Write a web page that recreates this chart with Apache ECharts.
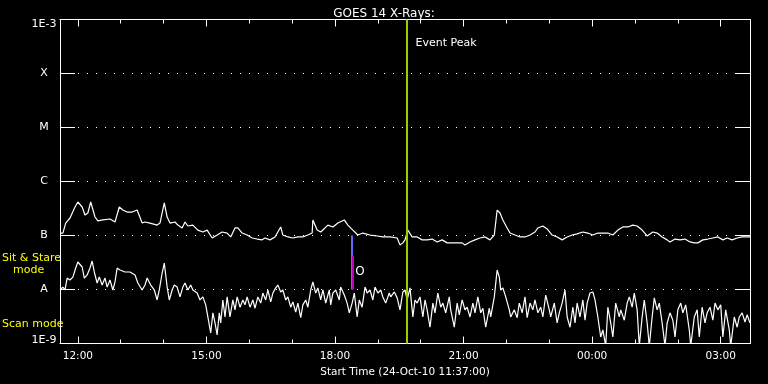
<!DOCTYPE html>
<html><head><meta charset="utf-8">
<script src="https://cdn.jsdelivr.net/npm/echarts@6/dist/echarts.min.js"></script>
<style>html,body{margin:0;padding:0;background:#000}#c{width:768px;height:384px}</style>
</head><body><div id="c"></div>
<script>
// ---- text ----
const chartTitle = 'GOES 14 X-Rays:';
const xTitle = 'Start Time (24-Oct-10 11:37:00)';
const modeLabels = ['Sit & Stare', 'mode', 'Scan mode'];
const eventLabel = 'Event Peak';
const obsLabel = 'O';
// ---- axis (time in minutes since 2010-10-24 00:00 UT) ----
const axisStart = 695;   // 11:35
const axisEnd = 1661;    // 03:41 next day
const majorTicks = [720, 900, 1080, 1260, 1440, 1620];
const minorTicks = [720, 780, 840, 900, 960, 1020, 1080, 1140, 1200, 1260, 1320, 1380, 1440, 1500, 1560, 1620];
const fluxClassLabels = {'-3': '1E-3', '-4': 'X', '-5': 'M', '-6': 'C', '-7': 'B', '-8': 'A', '-9': '1E-9'};
// ---- markers ----
const eventPeakTime = 1180;
const obsTime = 1104;
const obsRange = [1e-7, 1e-8];
const obsSubRange = [4.2e-8, 1e-8];
const eventLabelFlux = 3.7e-4;
const obsLabelFlux = 2.1e-8;
// ---- long channel (1-8 A) [minute, W/m^2] ----
const longChannel = [
[695,1.11e-7],[699,1.11e-7],[703,1.70e-7],[709,2.11e-7],[716,3.37e-7],[720,4.17e-7],[726,3.37e-7],[730,2.40e-7],[734,2.61e-7],[738,4.17e-7],
[744,2.20e-7],[748,1.86e-7],[755,1.94e-7],[765,2.02e-7],[772,1.78e-7],[778,3.37e-7],[783,2.96e-7],[789,2.72e-7],[796,2.72e-7],[803,2.96e-7],
[810,1.70e-7],[814,1.78e-7],[821,1.70e-7],[831,1.56e-7],[835,1.70e-7],[841,4.00e-7],[845,2.20e-7],[849,1.70e-7],[856,1.78e-7],[860,1.56e-7],
[866,1.38e-7],[870,1.78e-7],[874,1.50e-7],[881,1.56e-7],[888,1.26e-7],[895,1.16e-7],[901,1.26e-7],[908,0.90e-7],[915,1.02e-7],[922,1.16e-7],
[929,1.11e-7],[934,0.94e-7],[940,1.38e-7],[944,1.38e-7],[950,1.11e-7],[957,1.02e-7],[964,0.90e-7],[971,0.86e-7],[978,0.83e-7],[982,0.90e-7],
[989,0.83e-7],[996,0.94e-7],[1004,1.44e-7],[1007,1.02e-7],[1014,0.94e-7],[1021,0.90e-7],[1028,0.94e-7],[1035,0.94e-7],[1042,1.02e-7],[1048,1.11e-7],
[1049,1.94e-7],[1055,1.26e-7],[1060,1.16e-7],[1066,1.38e-7],[1070,1.56e-7],[1077,1.44e-7],[1084,1.70e-7],[1093,1.94e-7],[1098,1.56e-7],[1105,1.26e-7],
[1112,1.02e-7],[1119,1.11e-7],[1129,1.02e-7],[1139,0.98e-7],[1147,0.94e-7],[1157,0.94e-7],[1167,0.90e-7],[1171,0.67e-7],[1175,0.73e-7],[1178,0.83e-7],
[1182,1.26e-7],[1188,0.94e-7],[1195,0.94e-7],[1202,0.83e-7],[1209,0.83e-7],[1216,0.86e-7],[1223,0.76e-7],[1230,0.83e-7],[1237,0.73e-7],[1244,0.73e-7],
[1251,0.73e-7],[1258,0.73e-7],[1262,0.67e-7],[1269,0.76e-7],[1276,0.83e-7],[1283,0.90e-7],[1290,0.94e-7],[1297,0.83e-7],[1303,1.02e-7],[1307,2.96e-7],
[1311,2.61e-7],[1315,1.94e-7],[1321,1.38e-7],[1325,1.11e-7],[1332,1.02e-7],[1339,0.94e-7],[1346,0.94e-7],[1353,1.02e-7],[1360,1.16e-7],[1364,1.38e-7],
[1371,1.50e-7],[1377,1.32e-7],[1384,1.02e-7],[1391,0.94e-7],[1398,0.83e-7],[1405,0.94e-7],[1412,1.02e-7],[1419,1.07e-7],[1427,1.16e-7],[1434,1.11e-7],
[1441,1.02e-7],[1448,1.11e-7],[1455,1.11e-7],[1462,1.11e-7],[1469,1.02e-7],[1476,1.26e-7],[1483,1.44e-7],[1490,1.44e-7],[1497,1.56e-7],[1503,1.50e-7],
[1510,1.26e-7],[1517,0.98e-7],[1525,1.16e-7],[1531,1.11e-7],[1538,0.94e-7],[1545,0.83e-7],[1549,0.76e-7],[1556,0.86e-7],[1563,0.83e-7],[1570,0.86e-7],
[1577,0.76e-7],[1583,0.73e-7],[1588,0.73e-7],[1595,0.83e-7],[1602,0.86e-7],[1609,0.90e-7],[1616,0.94e-7],[1623,0.83e-7],[1629,0.90e-7],[1636,0.83e-7],
[1643,0.90e-7],[1650,0.94e-7],[1657,0.94e-7],[1661,0.94e-7]
];
// ---- short channel (0.5-4 A) [minute, W/m^2] ----
const shortChannel = [
[695,0.98e-8],[699,1.11e-8],[702,0.98e-8],[705,1.63e-8],[709,1.50e-8],[713,1.70e-8],[717,2.50e-8],[720,3.23e-8],[726,2.61e-8],[729,1.63e-8],
[733,1.86e-8],[737,2.50e-8],[740,3.37e-8],[743,2.11e-8],[747,1.32e-8],[750,1.70e-8],[754,1.21e-8],[758,1.63e-8],[761,1.11e-8],[765,1.50e-8],
[769,0.98e-8],[772,1.38e-8],[775,2.50e-8],[779,2.30e-8],[786,2.11e-8],[793,2.11e-8],[800,1.86e-8],[804,1.32e-8],[810,0.98e-8],[814,1.21e-8],
[817,1.63e-8],[822,1.21e-8],[827,0.98e-8],[831,0.64e-8],[834,0.98e-8],[838,2.02e-8],[841,3.09e-8],[845,1.11e-8],[848,0.64e-8],[852,0.98e-8],
[855,1.21e-8],[859,1.11e-8],[863,0.73e-8],[867,1.11e-8],[870,1.32e-8],[874,0.98e-8],[878,1.21e-8],[881,0.98e-8],[887,0.86e-8],[891,0.64e-8],
[895,0.73e-8],[899,0.52e-8],[902,0.31e-8],[906,0.157e-8],[909,0.37e-8],[912,0.24e-8],[915,0.144e-8],[918,0.37e-8],[920,0.24e-8],[923,0.64e-8],
[926,0.31e-8],[929,0.73e-8],[933,0.31e-8],[937,0.64e-8],[940,0.42e-8],[943,0.73e-8],[947,0.47e-8],[951,0.64e-8],[954,0.52e-8],[957,0.73e-8],
[961,0.47e-8],[965,0.64e-8],[968,0.45e-8],[972,0.73e-8],[976,0.56e-8],[979,0.86e-8],[983,0.64e-8],[986,0.98e-8],[990,0.59e-8],[993,0.86e-8],
[997,1.07e-8],[1000,1.21e-8],[1004,0.90e-8],[1007,0.98e-8],[1011,0.64e-8],[1014,0.73e-8],[1018,0.47e-8],[1021,0.59e-8],[1025,0.38e-8],[1028,0.56e-8],
[1032,0.30e-8],[1035,0.52e-8],[1039,0.64e-8],[1042,0.47e-8],[1046,0.98e-8],[1049,1.38e-8],[1053,0.86e-8],[1056,1.07e-8],[1060,0.64e-8],[1063,0.98e-8],
[1067,0.56e-8],[1072,0.98e-8],[1074,0.52e-8],[1077,0.86e-8],[1081,0.98e-8],[1086,0.64e-8],[1088,1.11e-8],[1093,0.79e-8],[1097,0.56e-8],[1100,0.37e-8],
[1104,0.56e-8],[1107,0.86e-8],[1111,0.31e-8],[1114,0.64e-8],[1118,0.47e-8],[1122,1.11e-8],[1125,0.86e-8],[1129,0.98e-8],[1133,0.64e-8],[1136,1.11e-8],
[1140,0.86e-8],[1144,0.98e-8],[1147,0.73e-8],[1151,0.56e-8],[1156,0.86e-8],[1158,0.73e-8],[1163,0.90e-8],[1167,0.70e-8],[1171,0.42e-8],[1175,0.90e-8],
[1178,0.98e-8],[1181,0.64e-8],[1185,1.07e-8],[1189,0.31e-8],[1192,0.64e-8],[1195,0.56e-8],[1199,0.73e-8],[1203,0.31e-8],[1206,0.64e-8],[1209,0.42e-8],
[1213,0.20e-8],[1217,0.56e-8],[1220,0.37e-8],[1224,0.86e-8],[1228,0.47e-8],[1231,0.56e-8],[1235,0.37e-8],[1240,0.73e-8],[1242,0.42e-8],[1247,0.20e-8],
[1251,0.56e-8],[1254,0.34e-8],[1258,0.64e-8],[1262,0.42e-8],[1265,0.47e-8],[1269,0.31e-8],[1273,0.56e-8],[1276,0.37e-8],[1280,0.73e-8],[1284,0.37e-8],
[1287,0.45e-8],[1291,0.20e-8],[1296,0.45e-8],[1298,0.31e-8],[1303,0.73e-8],[1307,2.30e-8],[1310,1.70e-8],[1312,0.98e-8],[1315,1.07e-8],[1319,0.73e-8],
[1324,0.42e-8],[1326,0.31e-8],[1331,0.42e-8],[1335,0.30e-8],[1338,0.56e-8],[1342,0.37e-8],[1346,0.73e-8],[1349,0.30e-8],[1353,0.56e-8],[1357,0.42e-8],
[1360,0.64e-8],[1364,0.37e-8],[1368,0.47e-8],[1371,0.31e-8],[1375,0.79e-8],[1380,0.42e-8],[1382,0.31e-8],[1387,0.56e-8],[1391,0.24e-8],[1394,0.37e-8],
[1398,0.56e-8],[1402,0.98e-8],[1405,0.31e-8],[1409,0.20e-8],[1413,0.47e-8],[1416,0.24e-8],[1419,0.56e-8],[1423,0.31e-8],[1427,0.64e-8],[1430,0.27e-8],
[1433,0.56e-8],[1437,0.86e-8],[1441,0.90e-8],[1444,0.64e-8],[1448,0.31e-8],[1452,0.132e-8],[1455,0.178e-8],[1459,0.09e-8],[1462,0.47e-8],[1466,0.24e-8],
[1469,0.132e-8],[1473,0.56e-8],[1478,0.31e-8],[1480,0.42e-8],[1485,0.27e-8],[1489,0.56e-8],[1492,0.73e-8],[1496,0.47e-8],[1499,0.86e-8],[1503,0.42e-8],
[1506,0.09e-8],[1510,0.31e-8],[1513,0.64e-8],[1517,0.24e-8],[1520,0.09e-8],[1524,0.31e-8],[1527,0.70e-8],[1531,0.42e-8],[1534,0.56e-8],[1538,0.24e-8],
[1542,0.09e-8],[1545,0.24e-8],[1549,0.37e-8],[1553,0.27e-8],[1556,0.132e-8],[1560,0.42e-8],[1564,0.56e-8],[1567,0.37e-8],[1571,0.52e-8],[1576,0.178e-8],
[1578,0.09e-8],[1583,0.31e-8],[1587,0.42e-8],[1590,0.132e-8],[1594,0.47e-8],[1598,0.24e-8],[1601,0.37e-8],[1605,0.47e-8],[1609,0.27e-8],[1612,0.56e-8],
[1616,0.42e-8],[1620,0.52e-8],[1623,0.132e-8],[1627,0.42e-8],[1632,0.178e-8],[1634,0.09e-8],[1639,0.31e-8],[1643,0.20e-8],[1646,0.31e-8],[1650,0.37e-8],
[1654,0.25e-8],[1657,0.34e-8],[1661,0.24e-8]
];

const FONT = 'DejaVu Sans';
const chart = echarts.init(document.getElementById('c'), null, {renderer: 'canvas'});
function hhmm(m) {
  const h = Math.floor(m / 60) % 24, mm = Math.round(m % 60);
  return String(h).padStart(2, '0') + ':' + String(mm).padStart(2, '0');
}
const gridBox = {left: 60, right: 18, top: 19.5, bottom: 40.5, containLabel: false};
const axisLine = {show: true, lineStyle: {color: '#fff', width: 1}};
const lineBase = {type: 'line', showSymbol: false, symbol: 'none', animation: false, clip: true,
  xAxisIndex: 0, yAxisIndex: 0, silent: true};

chart.setOption({
  backgroundColor: '#000',
  animation: false,
  title: {text: chartTitle, left: 'center', top: 3,
    textStyle: {color: '#fff', fontFamily: FONT, fontSize: 12, fontWeight: 'normal'}},
  grid: [Object.assign({}, gridBox), Object.assign({}, gridBox)],
  xAxis: [
    {gridIndex: 0, type: 'value', min: axisStart, max: axisEnd, position: 'bottom',
     axisLine: axisLine,
     axisTick: {show: true, inside: true, length: 7, customValues: majorTicks, lineStyle: {color: '#fff'}},
     axisLabel: {show: true, customValues: majorTicks, formatter: v => hhmm(v), color: '#fff',
       fontFamily: FONT, fontSize: 10.5, margin: 7},
     splitLine: {show: false},
     name: xTitle, nameLocation: 'middle', nameGap: 20,
     nameTextStyle: {color: '#fff', fontFamily: FONT, fontSize: 10.5}},
    {gridIndex: 0, type: 'value', min: axisStart, max: axisEnd, position: 'top',
     axisLine: axisLine,
     axisTick: {show: true, inside: true, length: 7, customValues: majorTicks, lineStyle: {color: '#fff'}},
     axisLabel: {show: false}, splitLine: {show: false}},
    {gridIndex: 1, type: 'value', min: axisStart, max: axisEnd, position: 'bottom',
     axisLine: {show: false},
     axisTick: {show: true, inside: true, length: 4, customValues: minorTicks, lineStyle: {color: '#fff'}},
     axisLabel: {show: false}, splitLine: {show: false}},
    {gridIndex: 1, type: 'value', min: axisStart, max: axisEnd, position: 'top',
     axisLine: {show: false},
     axisTick: {show: true, inside: true, length: 4, customValues: minorTicks, lineStyle: {color: '#fff'}},
     axisLabel: {show: false}, splitLine: {show: false}}
  ],
  yAxis: [
    {gridIndex: 0, type: 'log', logBase: 10, min: 1e-9, max: 1e-3, splitNumber: 6, position: 'left',
     axisLine: axisLine,
     axisTick: {show: true, inside: true, length: 15, lineStyle: {color: '#fff'}},
     minorTick: {show: false},
     axisLabel: {show: true, color: '#fff', fontFamily: FONT, fontSize: 11, align: 'center', margin: 16,
       formatter: v => {
         const e = String(Math.round(Math.log10(v)));
         const t = fluxClassLabels[e] || '';
         if (e === '-3') return '{top|' + t + '}';
         if (e === '-9') return '{bot|' + t + '}';
         return t;
       },
       rich: {
         top: {color: '#fff', fontFamily: FONT, fontSize: 11, padding: [10, 0, 0, 0]},
         bot: {color: '#fff', fontFamily: FONT, fontSize: 11, padding: [0, 0, 7, 0]}
       }},
     splitLine: {show: true, lineStyle: {color: '#fff', width: 1, type: [1, 8]}}},
    {gridIndex: 0, type: 'log', logBase: 10, min: 1e-9, max: 1e-3, splitNumber: 6, position: 'right',
     axisLine: axisLine,
     axisTick: {show: true, inside: true, length: 14, lineStyle: {color: '#fff'}},
     axisLabel: {show: false}, splitLine: {show: false}},
    {gridIndex: 1, type: 'value', show: false, min: 0, max: 1}
  ],
  graphic: [
    {type: 'text', left: 2, top: 253, style: {text: modeLabels[0], fill: '#ffff00', font: '11px "DejaVu Sans"'}},
    {type: 'text', left: 13, top: 265, style: {text: modeLabels[1], fill: '#ffff00', font: '11px "DejaVu Sans"'}},
    {type: 'text', left: 2, top: 319, style: {text: modeLabels[2], fill: '#ffff00', font: '11px "DejaVu Sans"'}}
  ],
  series: [
    Object.assign({}, lineBase, {name: 'long', data: longChannel,
      lineStyle: {color: '#fff', width: 1.2}}),
    Object.assign({}, lineBase, {name: 'short', data: shortChannel,
      lineStyle: {color: '#fff', width: 1.2},
      markLine: {silent: true, symbol: 'none', animation: false, label: {show: false},
        data: [
          [{coord: [obsTime, obsRange[0]], lineStyle: {color: '#6464ff', width: 2, type: 'solid'}},
           {coord: [obsTime, obsRange[1]]}],
          [{coord: [obsTime + 1.4, obsSubRange[0]], lineStyle: {color: '#c000c0', width: 2, type: 'solid'}},
           {coord: [obsTime + 1.4, obsSubRange[1]]}],
          {xAxis: eventPeakTime, lineStyle: {color: '#9acd00', width: 2, type: 'solid'}}
        ]},
      markPoint: {silent: true, animation: false, symbol: 'circle', symbolSize: 0,
        data: [
          {coord: [eventPeakTime, eventLabelFlux], label: {show: true, formatter: eventLabel, position: 'right',
            distance: 9, color: '#fff', fontFamily: FONT, fontSize: 11}},
          {coord: [obsTime, obsLabelFlux], label: {show: true, formatter: obsLabel, position: 'right',
            distance: 3, color: '#fff', fontFamily: FONT, fontSize: 12}}
        ]}
    })
  ]
});
</script></body></html>
